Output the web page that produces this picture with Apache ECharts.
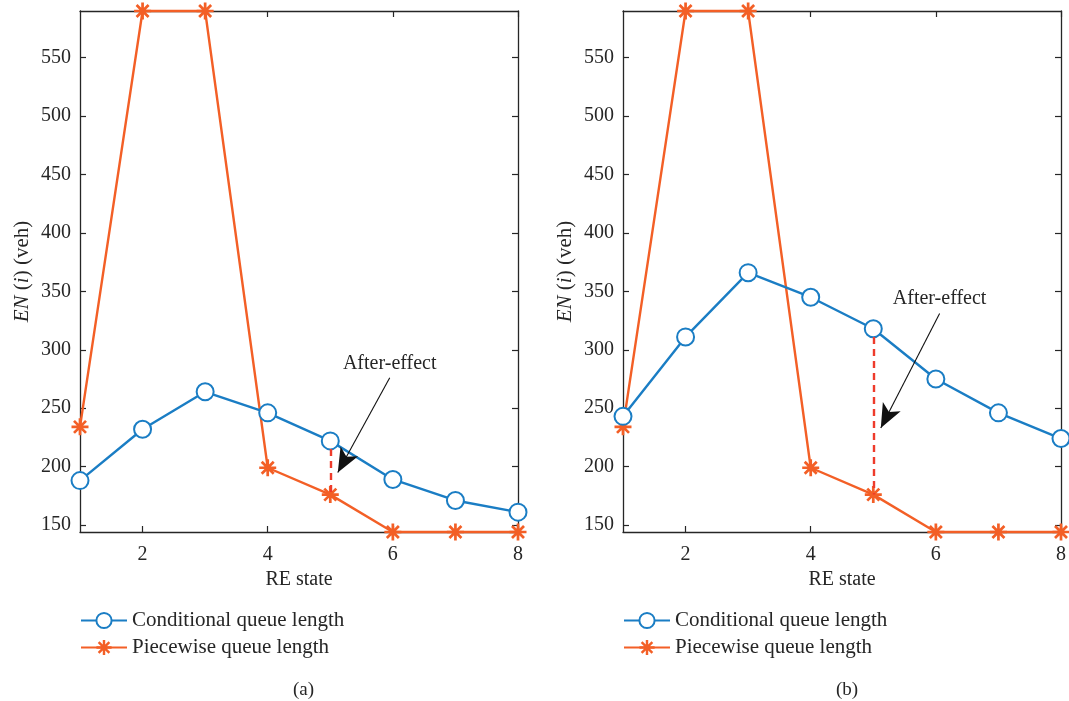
<!DOCTYPE html>
<html><head><meta charset="utf-8">
<script src="https://cdn.jsdelivr.net/npm/echarts@6/dist/echarts.min.js"></script>
<style>html,body{margin:0;padding:0;background:#fff}#c{width:1069px;height:701px}</style>
</head><body><div id="c"></div>
<script>
// ---- data ----
const states = [1, 2, 3, 4, 5, 6, 7, 8];
const condA  = [188, 232, 264, 246, 222, 189, 171, 161];
const pieceA = [234, 590, 590, 199, 176, 144, 144, 144];
const condB  = [243, 311, 366, 345, 318, 275, 246, 224];
const pieceB = [234, 590, 590, 199, 176, 144, 144, 144];
const xTicks = [2, 4, 6, 8];
const yTicks = [150, 200, 250, 300, 350, 400, 450, 500, 550];
const yMin = 144, yMax = 590;
const captions = ['(a)', '(b)'];
// annotation arrows: [start, tip] in data coordinates, and label anchor
const arrowA = [[5.95, 276], [5.12, 195]];
const labelA = [5.95, 288];
const arrowB = [[6.06, 331], [5.12, 233]];
const labelB = [6.06, 344];
const afterEffect = 'After-effect';
const legendNames = ['Conditional queue length', 'Piecewise queue length'];

const BLUE = '#1a7dc4', ORANGE = '#f35f26', RED = '#ee3b2b', INK = '#262626';
const FONT = '"Liberation Serif", "DejaVu Serif", serif';
const STAR = 'path://M-1.6,-10L1.6,-10L1.6,10L-1.6,10Z M-10,-1.6L10,-1.6L10,1.6L-10,1.6Z M-5.94,-8.2L8.2,5.94L5.94,8.2L-8.2,-5.94Z M-8.2,5.94L5.94,-8.2L8.2,-5.94L-5.94,8.2Z';

const zip = (xs, ys) => xs.map((x, i) => [x, ys[i]]);

function xAx(grid, pos, labels) {
  return {
    type: 'value', gridIndex: grid, position: pos, min: 1, max: 8,
    axisLine: { show: true, onZero: false, lineStyle: { color: INK, width: 1.3 } },
    axisTick: { show: true, inside: true, length: 6, customValues: xTicks, lineStyle: { color: INK, width: 1.2 } },
    axisLabel: { show: labels, customValues: xTicks, color: INK, fontFamily: FONT, fontSize: 20, margin: 13 },
    splitLine: { show: false },
    name: labels ? 'RE state' : '', nameLocation: 'middle', nameGap: 38,
    nameTextStyle: { color: INK, fontFamily: FONT, fontSize: 20 }
  };
}
function yAx(grid, pos, labels) {
  return {
    type: 'value', gridIndex: grid, position: pos, min: yMin, max: yMax,
    axisLine: { show: true, onZero: false, lineStyle: { color: INK, width: 1.3 } },
    axisTick: { show: true, inside: true, length: 6, customValues: yTicks, lineStyle: { color: INK, width: 1.2 } },
    axisLabel: { show: labels, customValues: yTicks, color: INK, fontFamily: FONT, fontSize: 20, margin: 9 },
    splitLine: { show: false },
    name: labels ? '{i|EN} ({i|i}) (veh)' : '', nameLocation: 'middle', nameGap: 47, nameRotate: 90,
    nameTextStyle: { color: INK, fontFamily: FONT, fontSize: 21,
      rich: { i: { fontStyle: 'italic', fontFamily: FONT, fontSize: 21, color: INK } } }
  };
}

function condSeries(ax, data, arrow, label) {
  return {
    name: legendNames[0], type: 'line', xAxisIndex: ax, yAxisIndex: ax, clip: false,
    data: zip(states, data), symbol: 'emptyCircle', symbolSize: 17,
    lineStyle: { color: BLUE, width: 2.4 }, itemStyle: { color: BLUE, borderColor: BLUE, borderWidth: 2.4 },
    z: 3,
    markLine: {
      silent: true, symbol: ['none', 'arrow'], symbolSize: [15, 24],
      lineStyle: { color: '#111', width: 1.1, type: 'solid' }, label: { show: false },
      data: [[{ coord: arrow[0] }, { coord: arrow[1] }]], animation: false
    },
    markPoint: {
      silent: true, symbol: 'circle', symbolSize: 0,
      label: { show: true, position: 'inside', formatter: afterEffect, color: INK, fontFamily: FONT, fontSize: 20 },
      data: [{ coord: label }], animation: false
    }
  };
}
function pieceSeries(ax, data, cond) {
  return {
    name: legendNames[1], type: 'line', xAxisIndex: ax, yAxisIndex: ax, clip: false,
    data: zip(states, data), symbol: STAR, symbolSize: 17,
    lineStyle: { color: ORANGE, width: 2.4 }, itemStyle: { color: ORANGE },
    z: 2,
    markLine: {
      silent: true, symbol: ['none', 'none'],
      lineStyle: { color: RED, width: 2.4, type: [7, 5] }, label: { show: false },
      data: [[{ coord: [states[4], cond[4] - 7] }, { coord: [states[4], data[4]] }]], animation: false
    }
  };
}

const legendBase = {
  orient: 'vertical', itemGap: 6, itemWidth: 46, itemHeight: 19, data: legendNames, padding: 0,
  textStyle: { color: INK, fontFamily: FONT, fontSize: 21 }, selectedMode: false
};

const chart = echarts.init(document.getElementById('c'));
chart.setOption({
  animation: false,
  backgroundColor: '#fff',
  grid: [
    { left: 80, top: 11, width: 438, height: 521 },
    { left: 623, top: 11, width: 441, height: 521 }
  ],
  xAxis: [xAx(0, 'bottom', true), xAx(1, 'bottom', true), xAx(0, 'top', false), xAx(1, 'top', false)],
  yAxis: [yAx(0, 'left', true), yAx(1, 'left', true), yAx(0, 'right', false), yAx(1, 'right', false)],
  legend: [
    Object.assign({ left: 80, top: 610 }, legendBase),
    Object.assign({ left: 623, top: 610 }, legendBase)
  ],
  title: [
    { text: captions[0], left: 288, top: 676, textStyle: { color: INK, fontFamily: FONT, fontSize: 19, fontWeight: 'normal' } },
    { text: captions[1], left: 831, top: 676, textStyle: { color: INK, fontFamily: FONT, fontSize: 19, fontWeight: 'normal' } }
  ],
  series: [
    pieceSeries(0, pieceA, condA), condSeries(0, condA, arrowA, labelA),
    pieceSeries(1, pieceB, condB), condSeries(1, condB, arrowB, labelB)
  ]
});
</script></body></html>
